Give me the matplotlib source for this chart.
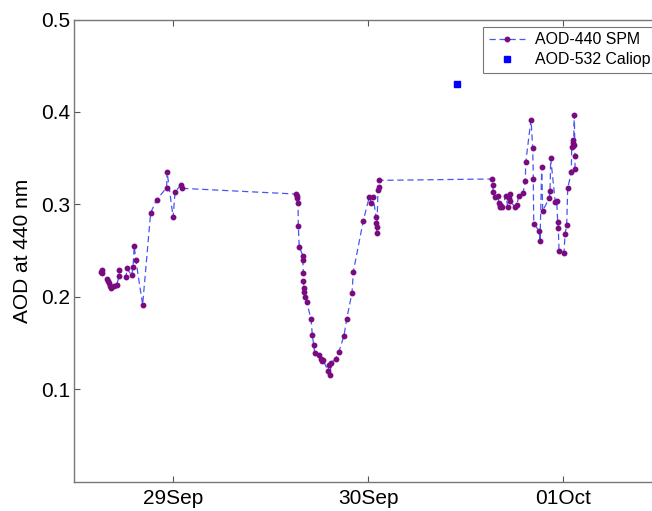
import matplotlib
matplotlib.use("Agg")
import matplotlib.pyplot as plt

plt.rcParams["font.family"] = ["Liberation Sans", "DejaVu Sans"]

# days since 28 Sep 00:00 (1 = 29Sep, 2 = 30Sep, 3 = 01Oct)
spm_days = [0.633, 0.636, 0.638, 0.665, 0.670, 0.675, 0.680, 0.686, 0.701, 0.713,
            0.725, 0.727, 0.761, 0.766, 0.790, 0.797, 0.803, 0.811, 0.846, 0.887,
            0.918, 0.969, 0.971, 1.002, 1.012, 1.042, 1.046,
            1.631, 1.636, 1.638, 1.642, 1.643, 1.648, 1.666, 1.666, 1.669, 1.669,
            1.672, 1.674, 1.679, 1.686, 1.708, 1.715, 1.722, 1.727, 1.751, 1.759,
            1.764, 1.770, 1.794, 1.802, 1.805, 1.812, 1.835, 1.850, 1.877, 1.891,
            1.918, 1.925, 1.976, 2.007, 2.017, 2.026, 2.041, 2.043, 2.046, 2.045,
            2.051, 2.055, 2.058,
            2.6365, 2.6385, 2.6416, 2.6487, 2.6656, 2.6692, 2.6743, 2.6774, 2.6861,
            2.7066, 2.7153, 2.7220, 2.7286, 2.7271, 2.7511, 2.7629, 2.7716, 2.7937,
            2.8054, 2.8075, 2.8346, 2.8433, 2.8464, 2.8484, 2.8771, 2.8807, 2.8894,
            2.8945, 2.9283, 2.9319, 2.9355, 2.9590, 2.9662, 2.9713, 2.9744, 2.9780,
            3.0036, 3.0087, 3.0174, 3.0225, 3.0410, 3.0430, 3.0471, 3.0497, 3.0522,
            3.0563, 3.0599, 3.0599]
spm_aod = [0.2274, 0.2285, 0.2253, 0.2195, 0.2170, 0.2145, 0.2116, 0.2094, 0.2116, 0.2126,
           0.2224, 0.2285, 0.2217, 0.2307, 0.2231, 0.2328, 0.2547, 0.2401, 0.1915, 0.2908,
           0.3052, 0.3181, 0.3354, 0.2861, 0.3135, 0.3210, 0.3174,
           0.3112, 0.3090, 0.3069, 0.3016, 0.2771, 0.2541, 0.2447, 0.2396, 0.2263, 0.2166,
           0.2101, 0.2051, 0.1997, 0.1943, 0.1763, 0.1583, 0.1475, 0.1392, 0.1367, 0.1331,
           0.1310, 0.1320, 0.1202, 0.1259, 0.1151, 0.1288, 0.1331, 0.1400, 0.1580, 0.1763,
           0.2044, 0.2274, 0.2825, 0.3084, 0.3016, 0.3084, 0.2868, 0.2795, 0.2753, 0.2692,
           0.3152, 0.3189, 0.3260,
           0.3275, 0.3214, 0.3131, 0.3081, 0.3095, 0.3016, 0.2973, 0.2995, 0.2973,
           0.3095, 0.2973, 0.3073, 0.3113, 0.3041, 0.2973, 0.2995, 0.3095, 0.3124,
           0.3250, 0.3455, 0.3916, 0.3613, 0.3275, 0.2793, 0.2710, 0.2602, 0.3405,
           0.2930, 0.3070, 0.3141, 0.3498, 0.3023, 0.3038, 0.2807, 0.2746, 0.2501,
           0.2479, 0.2677, 0.2779, 0.3174, 0.3351, 0.3621, 0.3700, 0.3660, 0.3640,
           0.3970, 0.3527, 0.3387]

caliop_days = [2.457]
caliop_aod = [0.4305]

tick_days = [1, 2, 3]
tick_labels = ["29Sep", "30Sep", "01Oct"]

fig = plt.figure(figsize=(6.52, 5.11), dpi=100)
ax = fig.add_axes([0.1135, 0.0573, 0.9034, 0.9045])

ax.plot(spm_days, spm_aod, color="#4a55f5", linestyle="--", linewidth=0.9, dashes=(5, 3),
        marker="o", markersize=3.2, markerfacecolor="#7a0a80", markeredgecolor="#7a0a80",
        label="AOD-440 SPM")
ax.plot(caliop_days, caliop_aod, linestyle="none", marker="s", markersize=4.8,
        color="#0000ff", label="AOD-532 Caliop")

ax.set_xlim(0.4946, 3.5105)
ax.set_ylim(0, 0.5)
ax.set_xticks(tick_days)
ax.set_xticklabels(tick_labels)
ax.set_yticks([0.1, 0.2, 0.3, 0.4, 0.5])
ax.set_ylabel("AOD at 440 nm", fontsize=15, labelpad=6)

ax.tick_params(direction="in", length=4.5, width=0.8, color="#555555",
               labelsize=15, top=True, right=False)
ax.tick_params(axis="x", pad=5)
ax.tick_params(axis="y", pad=3)
for s in ax.spines.values():
    s.set_color("#777777")
    s.set_linewidth(1)

leg = ax.legend(loc="upper right", bbox_to_anchor=(0.988, 0.984), borderaxespad=0,
                fancybox=False, fontsize=11.4, numpoints=1, handlelength=2.3,
                handletextpad=0.6, borderpad=0.35, labelspacing=0.3)
leg.get_frame().set_edgecolor("#555555")
leg.get_frame().set_linewidth(0.8)

fig.savefig("out.png", dpi=100)
